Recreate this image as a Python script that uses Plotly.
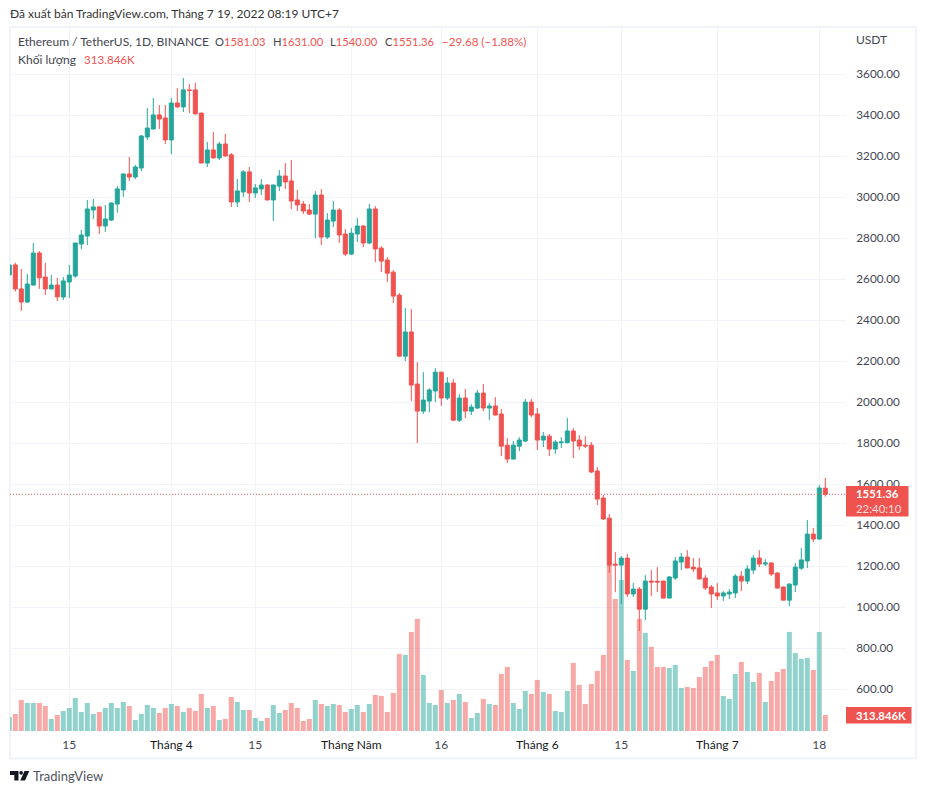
import plotly.graph_objects as go
import pandas as pd

# the page body keeps a margin of 8px, so the figure is smaller than the window
PAGE = 8
W = 910
H = 778
# plot area in window pixels
PLOT_L, PLOT_R, PLOT_T, PLOT_B = 10, 846, 28, 731

UP = "#26a69a"
DOWN = "#ef5350"
GRID = "#f0f3fa"
TEXT = "#434651"
DARK = "#131722"

dates = pd.date_range("2022-03-05", periods=137, freq="D")

opens = [2621, 2670, 2553, 2489, 2572, 2728, 2611, 2553, 2572, 2514, 2587, 2616, 2772, 2811, 2938, 2953, 2860, 2889, 2967, 3036,
         3114, 3099, 3143, 3294, 3333, 3402, 3387, 3280, 3460, 3441, 3524, 3524, 3411, 3167, 3231, 3192, 3260, 3207, 2977, 3026,
         3124, 3021, 3041, 3060, 2987, 3055, 3104, 3080, 2987, 2967, 2938, 2918, 3011, 2806, 2884, 2938, 2821, 2723, 2821, 2860,
         2777, 2943, 2752, 2694, 2635, 2523, 2225, 2343, 2089, 1957, 2006, 2055, 2147, 2021, 2094, 1913, 2021, 1957, 1972, 2045,
         1972, 1982, 1943, 1791, 1723, 1786, 1811, 2001, 1943, 1816, 1835, 1772, 1803, 1803, 1860, 1816, 1791, 1791, 1665, 1533,
         1435, 1211, 1206, 1240, 1065, 1089, 991, 1128, 1127, 1128, 1045, 1143, 1221, 1245, 1196, 1192, 1143, 1099, 1070, 1055,
         1065, 1070, 1152, 1128, 1182, 1240, 1211, 1216, 1167, 1099, 1035, 1109, 1191, 1226, 1357, 1333, 1581.03]
highs = [2680, 2681, 2650, 2626, 2777, 2738, 2680, 2621, 2607, 2611, 2670, 2778, 2841, 2987, 2992, 2958, 2963, 2975, 3055, 3116,
         3197, 3158, 3304, 3436, 3485, 3450, 3450, 3485, 3533, 3582, 3553, 3558, 3412, 3270, 3319, 3270, 3309, 3216, 3089, 3133,
         3148, 3065, 3089, 3062, 3062, 3133, 3167, 3182, 3036, 2982, 2967, 3030, 3040, 2923, 2982, 2947, 2845, 2850, 2899, 2864,
         2967, 2957, 2762, 2708, 2645, 2533, 2460, 2455, 2196, 2147, 2069, 2167, 2149, 2123, 2113, 2040, 2065, 1991, 2060, 2089,
         1996, 2025, 1967, 1825, 1811, 1830, 2016, 2016, 1972, 1855, 1845, 1816, 1830, 1923, 1874, 1840, 1835, 1806, 1684, 1548,
         1455, 1270, 1250, 1260, 1118, 1099, 1157, 1182, 1196, 1130, 1153, 1245, 1265, 1279, 1240, 1240, 1157, 1109, 1118, 1079,
         1089, 1162, 1177, 1206, 1255, 1279, 1235, 1221, 1172, 1100, 1118, 1216, 1289, 1426, 1387, 1596, 1631]
lows = [2600, 2540, 2446, 2486, 2570, 2553, 2524, 2552, 2494, 2499, 2509, 2607, 2748, 2767, 2894, 2821, 2831, 2885, 2924, 3002,
        3080, 3089, 3128, 3280, 3332, 3333, 3260, 3211, 3436, 3416, 3411, 3402, 3166, 3148, 3190, 3182, 3197, 2953, 2953, 3002,
        2977, 2997, 3011, 2985, 2885, 3031, 3041, 2943, 2933, 2918, 2913, 2801, 2767, 2796, 2855, 2777, 2713, 2718, 2782, 2757,
        2772, 2684, 2635, 2586, 2484, 2224, 2201, 2006, 1801, 1943, 1952, 2001, 1982, 2011, 1908, 1904, 1923, 1938, 1967, 1957,
        1913, 1936, 1738, 1704, 1722, 1762, 1806, 1928, 1767, 1782, 1738, 1747, 1777, 1800, 1728, 1767, 1777, 1655, 1499, 1426,
        1167, 1074, 1016, 1050, 1050, 884, 938, 1055, 1074, 1043, 1044, 1133, 1182, 1190, 1172, 1136, 1084, 996, 1035, 1031,
        1040, 1045, 1079, 1113, 1162, 1196, 1201, 1152, 1092, 1034, 1006, 1074, 1182, 1191, 1318, 1332, 1540]
closes = [2670, 2553, 2489, 2577, 2728, 2607, 2553, 2572, 2514, 2592, 2621, 2777, 2816, 2943, 2953, 2860, 2894, 2972, 3041, 3114,
          3099, 3148, 3299, 3338, 3402, 3382, 3280, 3460, 3441, 3524, 3521, 3407, 3167, 3231, 3192, 3260, 3202, 2977, 3031, 3124,
          3021, 3046, 3060, 2987, 3060, 3104, 3075, 2982, 2963, 2933, 2918, 3011, 2806, 2889, 2938, 2816, 2723, 2825, 2860, 2777,
          2943, 2748, 2689, 2630, 2518, 2225, 2343, 2084, 1957, 2011, 2060, 2147, 2021, 2094, 1913, 2021, 1957, 1977, 2045, 1972,
          1982, 1938, 1786, 1723, 1791, 1816, 2001, 1938, 1816, 1835, 1772, 1806, 1806, 1860, 1811, 1787, 1787, 1660, 1528, 1431,
          1206, 1206, 1240, 1065, 1089, 991, 1128, 1123, 1123, 1045, 1148, 1226, 1245, 1192, 1187, 1138, 1094, 1065, 1055, 1070,
          1074, 1152, 1128, 1187, 1240, 1211, 1216, 1162, 1094, 1035, 1113, 1196, 1231, 1357, 1333, 1582, 1551.36]
# volume in thousands of ETH
volumes = [275, 334, 608, 549, 549, 549, 490, 235, 314, 392, 451, 647, 373, 549, 334, 373, 451, 549, 451, 569,
           490, 216, 334, 510, 451, 353, 451, 530, 490, 373, 451, 392, 726, 451, 490, 216, 235, 667, 569, 412,
           412, 255, 196, 255, 510, 353, 412, 549, 451, 196, 235, 608, 530, 490, 530, 510, 373, 432, 510, 373,
           530, 706, 687, 373, 746, 1511, 1491, 1942, 2197, 1099, 549, 510, 804, 549, 608, 726, 569, 255, 353, 628,
           530, 510, 1118, 1256, 549, 432, 785, 726, 1001, 765, 726, 392, 373, 785, 1334, 903, 530, 922, 1177, 1491,
           3254, 2587, 2960, 1393, 1177, 2197, 1923, 1648, 1256, 1256, 1236, 1295, 844, 863, 844, 1059, 1256, 1373, 1491, 687,
           628, 1118, 1354, 1158, 961, 1138, 569, 981, 1158, 1216, 1942, 1530, 1413, 1432, 1197, 1942, 313.846]

price_ticks = [600, 800, 1000, 1200, 1400, 1600, 1800, 2000, 2200, 2400, 2600, 2800, 3000, 3200, 3400, 3600]
time_ticks = ["2022-03-15", "2022-04-01", "2022-04-15", "2022-05-01", "2022-05-16", "2022-06-01", "2022-06-15", "2022-07-01", "2022-07-18"]
time_labels = ["15", "Tháng 4", "15", "Tháng Năm", "16", "Tháng 6", "15", "Tháng 7", "18"]
is_month = [False, True, False, True, False, True, False, True, False]

last_price = 1551.36
FONT = "Lato"


def px(x):
    return (x - PLOT_L) / (PLOT_R - PLOT_L)


def py(y):
    return (PLOT_B - y) / (PLOT_B - PLOT_T)


def label(x, y, text, size=12, color=TEXT, anchor="left"):
    return dict(x=px(x), y=py(y), xref="paper", yref="paper", text=text, showarrow=False,
                xanchor=anchor, yanchor="middle", align=anchor, borderpad=0, borderwidth=0,
                font=dict(family=FONT, size=size, color=color))


def box(x0, y0, x1, y1, **kw):
    return dict(type="rect", xref="paper", yref="paper", x0=px(x0), x1=px(x1), y0=py(y0), y1=py(y1), **kw)


def logo_path(points):
    return "M" + " L".join("%.5f %.5f" % (px(x), py(y)) for x, y in points) + " Z"


bar_colors = ["rgba(38,166,154,0.5)" if c >= o else "rgba(239,83,80,0.5)" for o, c in zip(opens, closes)]

fig = go.Figure()
fig.add_trace(go.Bar(x=dates, y=volumes, marker=dict(color=bar_colors, line_width=0),
                     width=5 / 6 * 86400000, yaxis="y", showlegend=False))
fig.add_trace(go.Candlestick(x=dates, open=opens, high=highs, low=lows, close=closes, yaxis="y2",
                             whiskerwidth=0, showlegend=False,
                             increasing=dict(line=dict(color=UP, width=1), fillcolor=UP),
                             decreasing=dict(line=dict(color=DOWN, width=1), fillcolor=DOWN)))


def red(text):
    return "<span style='color:%s'>%s</span>" % (DOWN, text)


annotations = [
    label(10, 13, "Đã xuất bản TradingView.com, Tháng 7 19, 2022 08:19 UTC+7", color="#333333"),
    label(18, 42, "Ethereum / TetherUS, 1D, BINANCE"),
    label(215, 42, "O" + red("1581.03"), size=11.2),
    label(272.7, 42, "H" + red("1631.00"), size=11.2),
    label(330, 42, "L" + red("1540.00"), size=11.2),
    label(385, 42, "C" + red("1551.36"), size=11.2),
    label(442, 42, red("−29.68 (−1.88%)"), size=11.6),
    label(18, 59, "Khối lượng"),
    label(84, 59, red("313.846K"), size=11.6),
    label(856, 40, "USDT"),
    label(856.5, 501, "<b>1551.36</b><br><span style='color:#fbdcdb'>22:40:10</span>", size=11.4, color="white"),
    label(856, 715, "<b>313.846K</b>", size=11.3, color="white"),
    label(33, 776, "TradingView", size=13, color="#50535e"),
]

shapes = [
    box(10, 27, 916, 758.5, line=dict(color=GRID, width=2), fillcolor="rgba(0,0,0,0)", layer="below"),
    dict(type="line", xref="paper", yref="y2", x0=0, x1=1, y0=last_price, y1=last_price,
         line=dict(color=DOWN, width=1, dash="1px,2px")),
    box(846, 486, 908.5, 516.5, fillcolor=DOWN, line_width=0),
    box(846, 707, 911.5, 723.5, fillcolor=DOWN, line_width=0),
    # TradingView logo
    dict(type="path", xref="paper", yref="paper", fillcolor=DARK, line_width=0,
         path=logo_path([(10, 771), (18.5, 771), (18.5, 780.5), (14.3, 780.5), (14.3, 775), (10, 775)])),
    dict(type="circle", xref="paper", yref="paper", fillcolor=DARK, line_width=0,
         x0=px(19.3), x1=px(23), y0=py(771), y1=py(774.7)),
    dict(type="path", xref="paper", yref="paper", fillcolor=DARK, line_width=0,
         path=logo_path([(24.5, 771), (29.3, 771), (25, 780.5), (20.3, 780.5)])),
]

ticktext = ["<span style='color:%s'>%s</span>" % (DARK, t) if m else t for t, m in zip(time_labels, is_month)]

fig.update_layout(
    width=W, height=H, autosize=False,
    margin=dict(l=PLOT_L - PAGE, r=W + PAGE - PLOT_R, t=PLOT_T - PAGE, b=H + PAGE - PLOT_B, pad=0),
    paper_bgcolor="white", plot_bgcolor="white",
    font=dict(family=FONT, size=12, color=TEXT),
    showlegend=False, boxgap=0.33, boxgroupgap=0,
    xaxis=dict(type="date", range=["2022-03-05 02:48", "2022-07-22 10:48"], rangeslider=dict(visible=False),
               tickmode="array", tickvals=time_ticks, ticktext=ticktext, tickangle=0,
               showgrid=True, gridcolor=GRID, gridwidth=1, zeroline=False, showline=False, ticks="",
               ticklabelstandoff=5),
    yaxis=dict(range=[0, 13780], visible=False, fixedrange=True),
    yaxis2=dict(overlaying="y", side="right", range=[396.6, 3825.9], tickmode="array", tickvals=price_ticks,
                ticktext=["%.2f" % t for t in price_ticks], showgrid=True, gridcolor=GRID, gridwidth=1,
                zeroline=False, showline=False, ticks="outside", ticklen=7, tickcolor="rgba(0,0,0,0)",
                tickfont=dict(size=11.7)),
    annotations=annotations,
    shapes=shapes,
)

fig.write_html("out.html")
